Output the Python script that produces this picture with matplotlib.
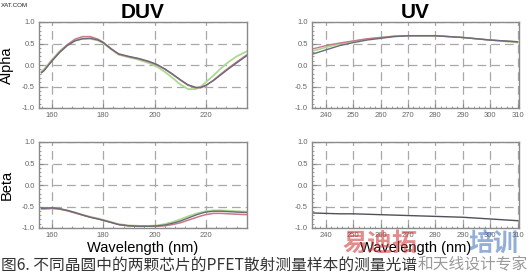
import matplotlib
matplotlib.use('Agg')
import matplotlib.pyplot as plt
from matplotlib.ticker import MultipleLocator
import numpy as np

# DUV wavelengths (nm) and measured alpha / beta for three chips
duv_wl = [156, 157, 160, 163, 166, 169, 172, 175, 178, 180, 183, 186, 190, 194,
          198, 201, 204, 207, 210, 213, 216, 218, 220, 223, 226, 229, 232, 236]
duv_alpha_red = [-0.17, -0.12, 0.10, 0.30, 0.47, 0.60, 0.66, 0.66, 0.60, 0.53, 0.38, 0.25,
                 0.19, 0.14, 0.07, 0.00, -0.10, -0.22, -0.35, -0.47, -0.53, -0.53, -0.48,
                 -0.35, -0.20, -0.06, 0.07, 0.24]
duv_alpha_green = [-0.15, -0.10, 0.12, 0.32, 0.47, 0.57, 0.61, 0.61, 0.57, 0.51, 0.37, 0.24,
                   0.18, 0.12, 0.04, -0.04, -0.16, -0.30, -0.45, -0.56, -0.56, -0.50, -0.40,
                   -0.24, -0.07, 0.08, 0.20, 0.32]
duv_alpha_gray = [-0.18, -0.13, 0.09, 0.29, 0.45, 0.56, 0.61, 0.62, 0.58, 0.52, 0.38, 0.26,
                  0.20, 0.15, 0.08, 0.01, -0.09, -0.21, -0.34, -0.46, -0.52, -0.52, -0.47,
                  -0.36, -0.22, -0.08, 0.05, 0.22]
duv_beta_red = [-0.55, -0.55, -0.54, -0.56, -0.60, -0.65, -0.70, -0.75, -0.79, -0.82, -0.87,
                -0.92, -0.95, -0.96, -0.96, -0.96, -0.95, -0.92, -0.88, -0.82, -0.76, -0.72,
                -0.69, -0.66, -0.66, -0.67, -0.68, -0.69]
duv_beta_green = [-0.56, -0.56, -0.55, -0.56, -0.59, -0.64, -0.69, -0.74, -0.78, -0.81, -0.86,
                  -0.91, -0.94, -0.95, -0.95, -0.94, -0.91, -0.86, -0.80, -0.73, -0.67, -0.64,
                  -0.61, -0.59, -0.59, -0.60, -0.61, -0.62]
duv_beta_gray = [-0.54, -0.54, -0.53, -0.55, -0.59, -0.64, -0.70, -0.75, -0.79, -0.82, -0.87,
                 -0.92, -0.95, -0.96, -0.96, -0.95, -0.93, -0.89, -0.84, -0.77, -0.70, -0.66,
                 -0.63, -0.61, -0.61, -0.62, -0.63, -0.64]

# UV wavelengths (nm)
uv_wl = [235, 240, 245, 250, 255, 260, 265, 270, 275, 280, 285, 290, 295, 300, 305, 310]
uv_alpha_red = [0.37, 0.45, 0.51, 0.56, 0.61, 0.64, 0.67, 0.68, 0.68, 0.68, 0.66, 0.64,
                0.61, 0.58, 0.56, 0.54]
uv_alpha_green = [0.32, 0.41, 0.49, 0.55, 0.60, 0.64, 0.67, 0.68, 0.68, 0.68, 0.66, 0.64,
                  0.61, 0.58, 0.55, 0.52]
uv_alpha_gray = [0.25, 0.35, 0.45, 0.52, 0.58, 0.62, 0.66, 0.68, 0.68, 0.68, 0.66, 0.64,
                 0.61, 0.58, 0.56, 0.54]
uv_beta = [-0.65, -0.66, -0.67, -0.67, -0.68, -0.69, -0.70, -0.71, -0.72, -0.73, -0.74,
           -0.75, -0.77, -0.79, -0.81, -0.83]

duv_ticks = [160, 180, 200, 220]
uv_ticks = [240, 250, 260, 270, 280, 290, 300, 310]
y_ticks = [-1.0, -0.5, 0.0, 0.5, 1.0]

RED = '#c8788a'
GREEN = '#a8dc90'
GRAY = '#6a6a78'

plt.rcParams['font.family'] = ['Liberation Sans', 'DejaVu Sans']

fig = plt.figure(figsize=(5.28, 2.78), dpi=100)
W, H = 528, 278


def make_ax(x0, top, w=208, h=86):
    ax = fig.add_axes([x0 / W, (H - top - h) / H, w / W, h / H])
    ax.set_ylim(-1.0, 1.0)
    ax.set_yticks(y_ticks)
    ax.set_yticklabels([f'{v:.1f}' for v in y_ticks])
    ax.yaxis.set_minor_locator(MultipleLocator(0.1))
    ax.grid(True, which='major', color='#a8a8a8', linestyle=(0, (7, 4)), linewidth=0.9)
    ax.tick_params(which='both', direction='in', colors='#888888', labelcolor='#666666',
                   labelsize=5.5, pad=3)
    ax.tick_params(which='major', length=3)
    ax.tick_params(which='minor', length=1.5)
    for s in ax.spines.values():
        s.set_color('#8a8a8a')
        s.set_linewidth(1.0)
    return ax


ax1 = make_ax(39, 22)
ax2 = make_ax(312, 22, w=207)
ax3 = make_ax(39, 142)
ax4 = make_ax(312, 142, w=207)

for ax in (ax1, ax3):
    ax.set_xlim(155, 236)
    ax.set_xticks(duv_ticks)
    ax.xaxis.set_minor_locator(MultipleLocator(4))
for ax in (ax2, ax4):
    ax.set_xlim(235, 310.5)
    ax.set_xticks(uv_ticks)
    ax.xaxis.set_minor_locator(MultipleLocator(2))

ax1.plot(duv_wl, duv_alpha_green, color=GREEN, lw=1.3)
ax1.plot(duv_wl, duv_alpha_red, color=RED, lw=1.1)
ax1.plot(duv_wl, duv_alpha_gray, color=GRAY, lw=1.0)

ax2.plot(uv_wl, uv_alpha_green, color=GREEN, lw=1.2)
ax2.plot(uv_wl, uv_alpha_red, color=RED, lw=1.0)
ax2.plot(uv_wl, uv_alpha_gray, color=GRAY, lw=1.0)

ax3.plot(duv_wl, duv_beta_green, color=GREEN, lw=1.3)
ax3.plot(duv_wl, duv_beta_red, color=RED, lw=1.1)
ax3.plot(duv_wl, duv_beta_gray, color=GRAY, lw=1.0)

ax4.plot(uv_wl, uv_beta, color='#505058', lw=1.0)

ax1.set_title('DUV', fontsize=15, fontweight='bold', pad=3)
ax2.set_title('UV', fontsize=15, fontweight='bold', pad=3)
ax1.set_ylabel('Alpha', fontsize=10.5, labelpad=6)
ax3.set_ylabel('Beta', fontsize=10.5, labelpad=6)
ax3.set_xlabel('Wavelength (nm)', fontsize=10.5, labelpad=1.5)
ax4.set_xlabel('Wavelength (nm)', fontsize=10.5, labelpad=1.5)

# watermark and caption
cjk = ['Noto Sans CJK SC', 'DejaVu Sans']
fig.text(342 / W, 1 - 244 / H, '易迪拓', color='#d04040', alpha=0.6, fontsize=18,
         family=cjk, fontweight='bold', va='center')
fig.text(468 / W, 1 - 244 / H, '培训', color='#4a78c0', alpha=0.6, fontsize=18,
         family=cjk, fontweight='bold', va='center')
fig.text(0.002, 1 - 265 / H, '图6. 不同晶圆中的两颗芯片的PFET散射测量样本的测量光谱',
         fontsize=11.3, color='#333333', family=cjk, va='center')
fig.text(1.0, 1 - 265 / H, '和天线设计专家', fontsize=11.3, color='#9a9a9a',
         family=cjk, va='center', ha='right')
fig.text(0.002, 1 - 3 / H, 'XAT.COM', fontsize=4.5, color='#222222', va='top')

fig.savefig('out.png', dpi=100)
